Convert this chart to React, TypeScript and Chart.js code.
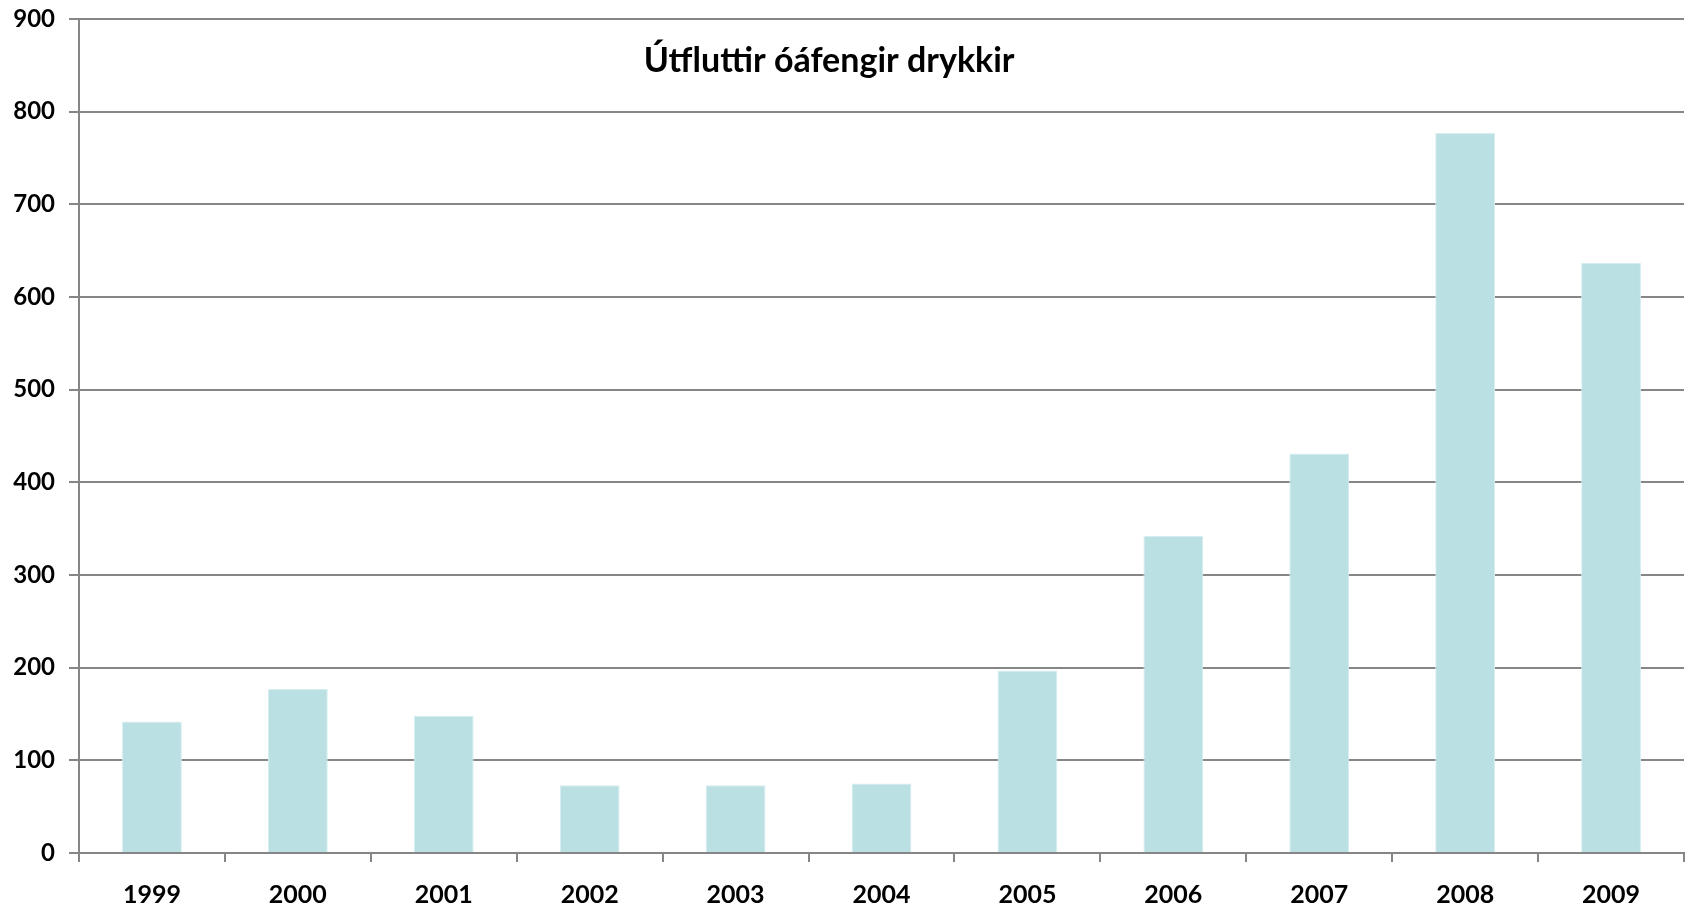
import React, { useEffect, useRef } from "react";
import { Chart, registerables } from "chart.js";

Chart.register(...registerables);

const categories = ["1999", "2000", "2001", "2002", "2003", "2004", "2005", "2006", "2007", "2008", "2009"];
const values = [142, 177, 148, 73, 73, 75, 197, 342, 431, 777, 637];
const titleText = "Útfluttir óáfengir drykkir";

const FONT = "Lato, 'Open Sans', sans-serif";

const titlePlugin = {
  id: "insideTitle",
  afterDraw(chart: any) {
    const ctx = chart.ctx;
    ctx.save();
    ctx.font = `bold 34px ${FONT}`;
    ctx.fillStyle = "#000";
    ctx.textAlign = "center";
    ctx.textBaseline = "middle";
    ctx.fillText(titleText, chart.width * 0.4912, 61);
    ctx.restore();
  },
};

export default function App() {
  const ref = useRef<HTMLCanvasElement | null>(null);
  useEffect(() => {
    document.body.style.margin = "0";
    const chart = new Chart(ref.current as HTMLCanvasElement, {
      type: "bar",
      data: {
        labels: categories,
        datasets: [
          {
            data: values,
            backgroundColor: "#BBE0E3",
            borderColor: "#D6EEF0",
            borderWidth: 1,
            categoryPercentage: 1,
            barPercentage: 0.41,
          },
        ],
      },
      options: {
        responsive: false,
        animation: false,
        layout: { padding: { top: 19, right: 4, left: 0, bottom: 0 } },
        plugins: { legend: { display: false }, title: { display: false }, tooltip: { enabled: false } },
        scales: {
          x: {
            afterFit(scale: any) {
              scale.height = 54;
              scale.paddingLeft = 0;
              scale.paddingRight = 0;
            },
            grid: {
              drawOnChartArea: false,
              drawTicks: true,
              tickLength: 9,
              color: "#868686",
              lineWidth: 2,
              offset: true,
            },
            border: { color: "#868686", width: 2 },
            ticks: {
              color: "#000",
              font: { family: FONT, size: 25, weight: "bold" },
              padding: 18,
              maxRotation: 0,
            },
          },
          y: {
            min: 0,
            max: 900,
            afterFit(scale: any) {
              scale.width = 79;
              scale.paddingTop = 0;
              scale.paddingBottom = 0;
            },
            grid: {
              color: "#868686",
              lineWidth: 2,
              drawTicks: true,
              tickLength: 10,
            },
            border: { color: "#868686", width: 2 },
            ticks: {
              stepSize: 100,
              color: "#000",
              font: { family: FONT, size: 24, weight: "bold" },
              padding: 14,
            },
          },
        },
      },
      plugins: [titlePlugin],
    } as any);
    return () => chart.destroy();
  }, []);
  return (
    <div style={{ position: "absolute", left: 0, top: 0, width: 1688, height: 907, background: "#fff" }}>
      <canvas ref={ref} width={1688} height={907} />
    </div>
  );
}
